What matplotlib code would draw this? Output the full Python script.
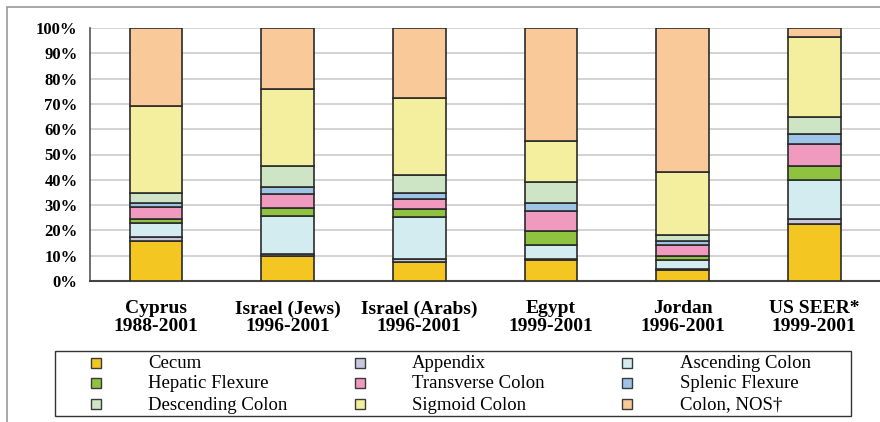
import matplotlib
matplotlib.use("Agg")
import matplotlib.pyplot as plt
import numpy as np
from matplotlib.patches import Rectangle

plt.rcParams['font.family'] = ['Liberation Serif', 'DejaVu Serif']

# Data (percent of colon cancers by subsite)
countries = ['Cyprus\n1988-2001', 'Israel (Jews)\n1996-2001', 'Israel (Arabs)\n1996-2001',
             'Egypt\n1999-2001', 'Jordan\n1996-2001', 'US SEER*\n1999-2001']
subsites = ['Cecum', 'Appendix', 'Ascending Colon', 'Hepatic Flexure', 'Transverse Colon',
            'Splenic Flexure', 'Descending Colon', 'Sigmoid Colon', 'Colon, NOS\u2020']

cecum      = [15.8, 10.0, 7.5, 8.3, 4.2, 22.4]
appendix   = [1.7, 0.7, 1.1, 0.3, 0.4, 2.0]
ascending  = [5.5, 15.1, 16.8, 5.5, 3.8, 15.6]
hepatic    = [1.6, 3.1, 3.2, 5.5, 1.4, 5.3]
transverse = [4.5, 5.5, 3.9, 8.2, 4.3, 8.9]
splenic    = [1.8, 2.6, 2.2, 2.9, 1.6, 3.9]
descending = [4.0, 8.6, 7.1, 8.3, 2.6, 6.6]
sigmoid    = [34.1, 30.3, 30.7, 16.5, 24.8, 31.6]
nos        = [31.0, 24.1, 27.5, 44.5, 56.9, 3.7]

series = [cecum, appendix, ascending, hepatic, transverse, splenic, descending, sigmoid, nos]
colors = ['#F4C622', '#C9C6E0', '#D3ECF0', '#8FC23E', '#F09ABF',
          '#9EC4E7', '#CDE5C5', '#F3EF9F', '#F9C999']

W, H = 880, 422
fig = plt.figure(figsize=(W / 100, H / 100), dpi=100)
ax = fig.add_axes([90 / W, 141 / H, 790 / W, 253 / H])

x = np.arange(len(countries))
bottom = np.zeros(len(countries))
for vals, col, name in zip(series, colors, subsites):
    vals = np.array(vals)
    ax.bar(x, vals, 0.4, bottom=bottom, color=col, edgecolor='#2b2b2b',
           linewidth=1.2, label=name, zorder=3)
    bottom += vals

ax.set_ylim(0, 100)
ax.set_xlim(-0.5, len(countries) - 0.5)
ax.set_yticks(np.arange(0, 101, 10))
ax.set_yticklabels([f'{v}%' for v in range(0, 101, 10)], fontsize=12, fontweight='bold')
ax.set_xticks(x)
ax.set_xticklabels(countries, fontsize=14, fontweight='bold', linespacing=1.05)
ax.tick_params(length=0)
ax.tick_params(axis='y', pad=9)
ax.tick_params(axis='x', pad=14)
ax.yaxis.grid(True, color='#cccccc', linewidth=1.2, zorder=0)
ax.set_axisbelow(True)
for s in ['top', 'right']:
    ax.spines[s].set_visible(False)
ax.spines['left'].set_color('#555555')
ax.spines['left'].set_linewidth(1.2)
ax.spines['bottom'].set_color('#444444')
ax.spines['bottom'].set_linewidth(1.5)

# outer frame
fig.patches.append(Rectangle((7 / W, -0.05), 1.2, (415 / H) + 0.05, transform=fig.transFigure,
                             fill=False, edgecolor='#999999', linewidth=1.2))

# legend box, laid out row by row like the original
fig.patches.append(Rectangle((55 / W, 6 / H), 796 / W, 65 / H, transform=fig.transFigure,
                             fill=False, edgecolor='#333333', linewidth=1.0))
marker_x = [96, 360, 627]
text_x = [148, 412, 680]
row_y = [363, 383, 404]
sq = 10
for i, (name, col) in enumerate(zip(subsites, colors)):
    r, c = divmod(i, 3)
    yc = H - row_y[r]
    fig.patches.append(Rectangle(((marker_x[c] - sq / 2) / W, (yc - sq / 2) / H), sq / W, sq / H,
                                 transform=fig.transFigure, facecolor=col,
                                 edgecolor='#3a3a3a', linewidth=1.0))
    fig.text(text_x[c] / W, (yc - 1) / H, name, fontsize=13.5, ha='left', va='center')

fig.savefig('out.png', dpi=100)
